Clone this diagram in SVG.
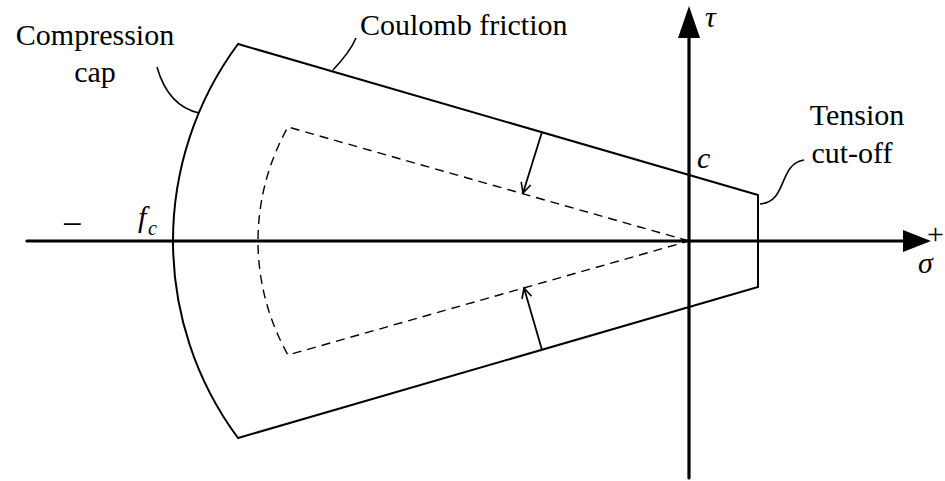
<svg xmlns="http://www.w3.org/2000/svg" width="945" height="481" viewBox="0 0 945 481">
<defs>
<style>
text{font-family:'Times New Roman','Liberation Serif',Times,serif;font-size:30px;fill:#000}
.it{font-style:italic}
.solid{fill:none;stroke:#000;stroke-width:2}
.dash{fill:none;stroke:#000;stroke-width:1.4;stroke-dasharray:9,6}
.lead{fill:none;stroke:#000;stroke-width:1.6}
.axis{fill:none;stroke:#000;stroke-width:3.2;stroke-linecap:round}
</style>
<marker id="vee" viewBox="0 0 12 12" refX="11" refY="6" markerWidth="12" markerHeight="12" markerUnits="userSpaceOnUse" orient="auto">
<path d="M1,1 L11,6 L1,11" fill="none" stroke="#000" stroke-width="1.6"/>
</marker>
</defs>
<rect width="945" height="481" fill="#fff"/>
<g id="axes">
<line class="axis" x1="27" y1="241" x2="905" y2="241"/>
<polygon points="903,230 931,241 903,252" fill="#000"/>
<line class="axis" x1="689" y1="478" x2="689" y2="36"/>
<polygon points="678,38 689,6 700,38" fill="#000"/>
</g>
<g id="yield-surface">
<path class="solid" d="M758,195 L238,44 A331,331 0 0 0 173,241 A331,331 0 0 0 238,438 L758,287 Z"/>
</g>
<g id="initial-surface">
<path class="dash" d="M689,241 L288,127 A232,232 0 0 0 258,241 A232,232 0 0 0 288,355 Z"/>
</g>
<g id="connectors">
<line class="solid" style="stroke-width:1.8" x1="542" y1="132" x2="523" y2="193" marker-end="url(#vee)"/>
<line class="solid" style="stroke-width:1.8" x1="542" y1="350" x2="524" y2="288" marker-end="url(#vee)"/>
<path class="lead" d="M157,67 Q168,106 199,113"/>
<path class="lead" d="M333,70 Q350,52 356,38"/>
<path class="lead" d="M760,204 C788,202 778,164 804,160"/>
</g>
<g id="labels">
<text x="95" y="45" text-anchor="middle">Compression</text>
<text x="95" y="82" text-anchor="middle">cap</text>
<text x="360" y="35">Coulomb friction</text>
<text x="857" y="125" text-anchor="middle">Tension</text>
<text x="852" y="163" text-anchor="middle">cut-off</text>
<text class="it" x="697" y="168">c</text>
<text class="it" x="705" y="27">τ</text>
<text class="it" x="918" y="273">σ</text>
<text x="927" y="244">+</text>
<text x="62" y="236" style="font-size:36px">−</text>
<text class="it" x="138" y="227">f</text>
<text class="it" x="148" y="235" style="font-size:20px">c</text>
</g>
</svg>
